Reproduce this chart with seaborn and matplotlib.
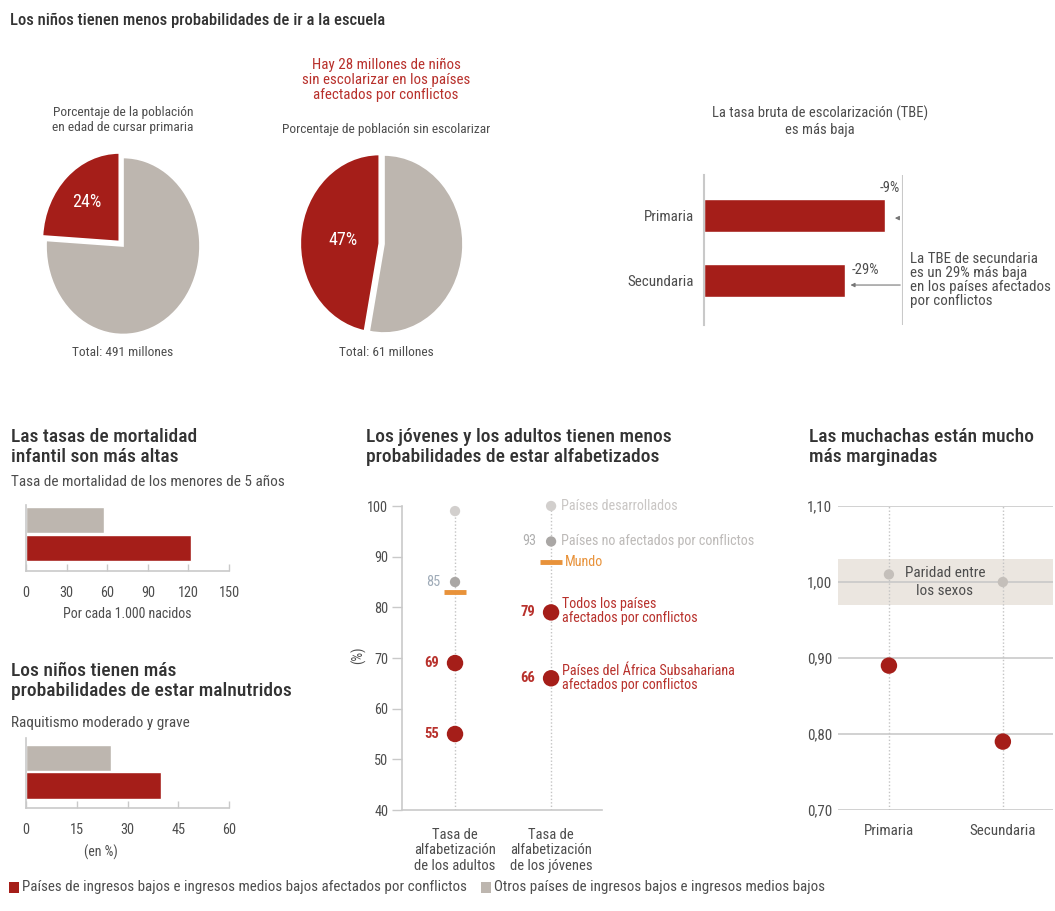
import matplotlib
matplotlib.use('Agg')
import matplotlib.pyplot as plt
from matplotlib.patches import Rectangle
import seaborn as sns
import pandas as pd
import numpy as np

sns.set_theme(style='white')
plt.rcParams['font.family'] = ['Roboto Condensed', 'Liberation Sans Narrow', 'Roboto', 'DejaVu Sans']

# ---------------- data ----------------
pie1_values = [24, 76]
pie1_labels = ['24%', '']
pie2_values = [47, 53]
pie2_labels = ['47%', '']

tbe_categories = ['Primaria', 'Secundaria']
tbe_values = [91, 71]          # index, other countries = 100
tbe_gap_labels = ['-9%', '-29%']

mort_groups = ['Otros', 'Conflicto']
mort_values = [58, 122]
mort_ticks = [0, 30, 60, 90, 120, 150]

stunt_groups = ['Otros', 'Conflicto']
stunt_values = [25, 40]
stunt_ticks = [0, 15, 30, 45, 60]

lit_categories = ['Tasa de\nalfabetización\nde los adultos',
                  'Tasa de\nalfabetización\nde los jóvenes']
lit_developed = [99, 100]
lit_nonconflict = [85, 93]
lit_world = [83, 89]
lit_conflict = [69, 79]
lit_ssa = [55, 66]
lit_ticks = [40, 50, 60, 70, 80, 90, 100]

gpi_categories = ['Primaria', 'Secundaria']
gpi_other = [1.01, 1.00]
gpi_conflict = [0.89, 0.79]
gpi_ticks = [0.70, 0.80, 0.90, 1.00, 1.10]

legend_labels = ['Países de ingresos bajos e ingresos medios bajos afectados por conflictos',
                 'Otros países de ingresos bajos e ingresos medios bajos']

# ---------------- style ----------------
RED = '#a51e19'
GRAY = '#bdb6af'
LGRAY = '#d2cfcd'
MGRAY = '#aaa7a5'
ORANGE = '#e8923a'
TXT = '#4d4d4d'
DARK = '#333333'
LINE = '#c9c9c9'
REDTXT = '#b8312c'
TFS = 14
TW = 'medium'
X0 = 11

W, H = 1055, 911
fig = plt.figure(figsize=(W / 100, H / 100), dpi=100)
fig.patch.set_facecolor('white')


def ax_px(x0, y0, x1, y1):
    return fig.add_axes([x0 / W, 1 - y1 / H, (x1 - x0) / W, (y1 - y0) / H])


def ftext(x, y, s, **kw):
    kw.setdefault('color', TXT)
    kw.setdefault('fontsize', 10)
    kw.setdefault('va', 'center')
    fig.text(x / W, 1 - y / H, s, **kw)


# ---------------- titles / texts ----------------
ftext(X0 - 1, 20, 'Los niños tienen menos probabilidades de ir a la escuela', fontsize=12,
      color=DARK, fontweight=TW)

ftext(123, 120, 'Porcentaje de la población\nen edad de cursar primaria', ha='center',
      fontsize=9.6, linespacing=1.25)
ftext(123, 352, 'Total: 491 millones', ha='center', fontsize=9.6)
ftext(386, 80, 'Hay 28 millones de niños\nsin escolarizar en los países\nafectados por conflictos',
      ha='center', color=REDTXT, fontsize=10.8, linespacing=1.1)
ftext(386, 129, 'Porcentaje de población sin escolarizar', ha='center', fontsize=9.6)
ftext(386, 352, 'Total: 61 millones', ha='center', fontsize=9.6)

ftext(820, 121, 'La tasa bruta de escolarización (TBE)\nes más baja', ha='center', fontsize=10.5,
      linespacing=1.2)
ftext(910, 280, 'La TBE de secundaria\nes un 29% más baja\nen los países afectados\npor conflictos',
      ha='left', fontsize=10.8, linespacing=1.02)

ftext(X0, 447, 'Las tasas de mortalidad\ninfantil son más altas', fontsize=TFS, color=DARK,
      linespacing=1.1, fontweight=TW)
ftext(X0, 482, 'Tasa de mortalidad de los menores de 5 años', fontsize=11)
ftext(127, 614, 'Por cada 1.000 nacidos', ha='center')

ftext(X0, 681, 'Los niños tienen más\nprobabilidades de estar malnutridos', fontsize=TFS, color=DARK,
      linespacing=1.1, fontweight=TW)
ftext(X0, 723, 'Raquitismo moderado y grave', fontsize=11)
ftext(101, 852, '(en %)', ha='center')

ftext(366, 447, 'Los jóvenes y los adultos tienen menos\nprobabilidades de estar alfabetizados',
      fontsize=TFS, color=DARK, linespacing=1.1, fontweight=TW)
ftext(358, 655, '(%)', ha='center', rotation=90)

ftext(809, 447, 'Las muchachas están mucho\nmás marginadas', fontsize=TFS, color=DARK,
      linespacing=1.1, fontweight=TW)

# legend
fig.add_artist(Rectangle((9 / W, 1 - 893 / H), 10 / W, 11 / H, transform=fig.transFigure,
                         facecolor=RED, edgecolor='none'))
ftext(22, 887, legend_labels[0], fontsize=10.8)
fig.add_artist(Rectangle((481 / W, 1 - 893 / H), 10 / W, 11 / H, transform=fig.transFigure,
                         facecolor=GRAY, edgecolor='none'))
ftext(494, 887, legend_labels[1], fontsize=10.8)

# ---------------- pies ----------------
def draw_pie(cx, cy, rx, ry, values, labels, explode, lab_xy):
    ax = ax_px(cx - 100, cy - 100, cx + 100, cy + 100)
    ax.pie(values, colors=[RED, GRAY], startangle=90, counterclock=True, explode=explode,
           wedgeprops=dict(edgecolor='white', linewidth=1.2))
    ax.set_aspect('auto')
    ax.set_xlim(-100 / rx, 100 / rx)
    ax.set_ylim(-100 / ry, 100 / ry)
    ax.axis('off')
    ax.text(lab_xy[0], lab_xy[1], labels[0], color='white', fontsize=13, ha='center', va='center')


draw_pie(123, 246, 77, 88.5, pie1_values, pie1_labels, [0.07, 0], (-0.47, 0.50))
draw_pie(384, 244, 79, 89, pie2_values, pie2_labels, [0.06, 0], (-0.52, 0.05))

# ---------------- TBE bars ----------------
ax = ax_px(704, 175, 903, 325)
tbe_df = pd.DataFrame({'cat': tbe_categories, 'val': tbe_values})
sns.barplot(data=tbe_df, x='val', y='cat', orient='h', color=RED, width=0.51, ax=ax,
            saturation=1)
ax.set_xlim(0, 100)
ax.set_ylim(1.685, -0.623)
for s in ['top', 'right', 'bottom']:
    ax.spines[s].set_visible(False)
ax.spines['left'].set_color(LINE)
ax.spines['left'].set_linewidth(1.5)
ax.axvline(100, color=LINE, lw=1.5)
ax.set_xticks([])
ax.set_xlabel('')
ax.set_ylabel('')
ax.tick_params(axis='y', length=0, pad=7, labelsize=10.8, labelcolor=TXT)
ax.text(98.5, -0.42, tbe_gap_labels[0], ha='right', va='center', fontsize=10.5, color=TXT)
ax.text(74.4, 0.84, tbe_gap_labels[1], ha='left', va='center', fontsize=10.5, color=TXT)
ax.annotate('', xy=(94.5, 0.04), xytext=(99, 0.04),
            arrowprops=dict(arrowstyle='-|>', color='#777777', lw=0.8, mutation_scale=6))
ax.annotate('', xy=(72.2, 1.07), xytext=(100, 1.07),
            arrowprops=dict(arrowstyle='-|>', color='#777777', lw=0.8, mutation_scale=6))
ax.patch.set_alpha(0)


# ---------------- small bars ----------------
def small_bars(y0, y1, groups, values, ticks, top, bottom):
    ax = ax_px(26, y0, 229, y1)
    df = pd.DataFrame({'g': groups, 'v': values})
    sns.barplot(data=df, x='v', y='g', hue='g', palette=[GRAY, RED], orient='h', width=0.95,
                legend=False, saturation=1, ax=ax)
    ax.set_xlim(ticks[0], ticks[-1])
    ax.set_ylim(bottom, top)
    for s in ['top', 'right']:
        ax.spines[s].set_visible(False)
    for s in ['left', 'bottom']:
        ax.spines[s].set_color(LINE)
        ax.spines[s].set_linewidth(1.2)
    ax.set_yticks([])
    ax.set_xticks(ticks)
    ax.tick_params(axis='x', direction='in', length=5, width=1, color=LINE, pad=11,
                   labelsize=10.3, labelcolor=TXT, bottom=True)
    ax.set_xlabel('')
    ax.set_ylabel('')
    ax.patch.set_alpha(0)


small_bars(505, 571, mort_groups, mort_values, mort_ticks, -0.536, 1.82)
small_bars(738, 808, stunt_groups, stunt_values, stunt_ticks, -0.727, 1.82)

# ---------------- literacy ----------------
ax = ax_px(402, 506, 602, 810)
xpos = np.arange(len(lit_categories))
ax.set_xlim(-0.552, 1.53)
ax.set_ylim(40, 100)
ax.vlines(xpos, 40, 100, colors='#c4c4c4', linestyles=(0, (1, 1.5)), lw=1, zorder=1)
sns.scatterplot(x=xpos, y=lit_developed, color=LGRAY, s=55, edgecolor='none', ax=ax,
                clip_on=False, zorder=3)
sns.scatterplot(x=xpos, y=lit_nonconflict, color=MGRAY, s=55, edgecolor='none', ax=ax,
                clip_on=False, zorder=3)
sns.scatterplot(x=xpos, y=lit_world, color=ORANGE, marker='_', s=230, linewidth=3.5, ax=ax,
                zorder=3)
sns.scatterplot(x=xpos, y=lit_conflict, color=RED, s=140, edgecolor='none', ax=ax, zorder=4)
sns.scatterplot(x=xpos, y=lit_ssa, color=RED, s=140, edgecolor='none', ax=ax, zorder=4)
for s in ['top', 'right']:
    ax.spines[s].set_visible(False)
for s in ['left', 'bottom']:
    ax.spines[s].set_color(LINE)
    ax.spines[s].set_linewidth(1.2)
ax.set_yticks(lit_ticks)
ax.tick_params(axis='y', direction='out', length=7, width=1, color=LINE, labelsize=10.3,
               labelcolor=TXT, pad=3, left=True)
ax.set_xticks(xpos)
ax.set_xticklabels(lit_categories, linespacing=1.12)
ax.tick_params(axis='x', length=0, pad=13, labelsize=10.5, labelcolor=TXT)
off = 0.15
ax.text(xpos[0] - off, lit_nonconflict[0], str(lit_nonconflict[0]), ha='right', va='center',
        fontsize=10.3, color='#9fabb8')
ax.text(xpos[1] - off, lit_nonconflict[1], str(lit_nonconflict[1]), ha='right', va='center',
        fontsize=10.3, color='#b0b0b0')
for i in range(2):
    ax.text(xpos[i] - off - 0.02, lit_conflict[i], str(lit_conflict[i]), ha='right', va='center',
            fontsize=10.5, color=REDTXT, fontweight='bold')
    ax.text(xpos[i] - off - 0.02, lit_ssa[i], str(lit_ssa[i]), ha='right', va='center',
            fontsize=10.5, color=REDTXT, fontweight='bold')
lx = xpos[1] + 0.1
ax.text(lx, lit_developed[1], 'Países desarrollados', ha='left', va='center', fontsize=10.2,
        color='#c9c6c4', clip_on=False)
ax.text(lx, lit_nonconflict[1], 'Países no afectados por conflictos', ha='left', va='center',
        fontsize=10.2, color='#bdbab8', clip_on=False)
ax.text(lx + 0.04, lit_world[1], 'Mundo', ha='left', va='center', fontsize=10.2, color=ORANGE,
        clip_on=False)
ax.text(lx + 0.01, lit_conflict[1] + 0.3, 'Todos los países\nafectados por conflictos', ha='left',
        va='center', fontsize=10.2, color=REDTXT, linespacing=1.0, clip_on=False)
ax.text(lx + 0.01, lit_ssa[1], 'Países del África Subsahariana\nafectados por conflictos', ha='left',
        va='center', fontsize=10.2, color=REDTXT, linespacing=1.0, clip_on=False)
ax.patch.set_alpha(0)

# ---------------- gender parity ----------------
ax = ax_px(838, 506, 1053, 810)
gpos = np.arange(len(gpi_categories))
ax.set_xlim(-0.447, 1.44)
ax.set_ylim(0.70, 1.10)
ax.axhspan(0.97, 1.03, color='#ebe6e0', zorder=0, lw=0)
for t in gpi_ticks:
    ax.axhline(t, color=LINE, lw=1.2, zorder=1)
ax.vlines(gpos, 0.70, 1.10, colors='#c4c4c4', linestyles=(0, (1, 1.5)), lw=1, zorder=1)
sns.scatterplot(x=gpos, y=gpi_other, color='#c4bfba', s=55, edgecolor='none', ax=ax, zorder=3)
sns.scatterplot(x=gpos, y=gpi_conflict, color=RED, s=140, edgecolor='none', ax=ax, zorder=4)
ax.text(0.49, 1.0, 'Paridad entre\nlos sexos', ha='center', va='center', fontsize=11, color=TXT,
        linespacing=1.3, zorder=5)
for s in ax.spines.values():
    s.set_visible(False)
ax.set_yticks(gpi_ticks)
ax.set_yticklabels([f'{t:.2f}'.replace('.', ',') for t in gpi_ticks])
ax.tick_params(axis='y', length=0, pad=4, labelsize=10.8, labelcolor=TXT)
ax.set_xticks(gpos)
ax.set_xticklabels(gpi_categories)
ax.tick_params(axis='x', length=0, pad=10, labelsize=10.8, labelcolor=TXT)
ax.patch.set_alpha(0)

fig.savefig('out.png', dpi=100, facecolor='white')
